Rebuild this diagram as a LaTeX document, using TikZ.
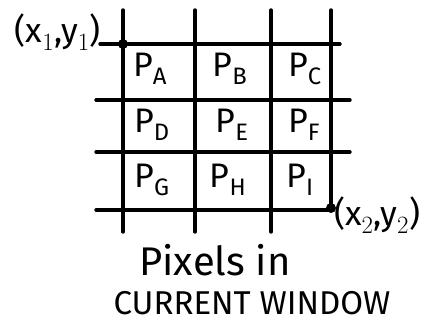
\documentclass[tikz,border=0pt]{standalone}
\usepackage{fontspec}
\setmainfont{Fira Sans}
\begin{document}
\begin{tikzpicture}[x=1pt,y=-1pt,
  gridline/.style={line width=3.4pt,line cap=round},
  celltext/.style={font=\fontsize{34}{36}\selectfont,inner sep=0pt},
  lbl/.style={font=\fontsize{34}{36}\selectfont,inner sep=0pt},
  dotmark/.style={circle,fill=black,inner sep=0pt,minimum size=10pt}]
\useasboundingbox (0,0) rectangle (439,326);
% vertical lines
\draw[gridline] (123,10) -- (123,232);
\draw[gridline] (195,10) -- (195,232);
\draw[gridline] (271,10) -- (271,232);
\draw[gridline] (331,10) -- (331,208);
% horizontal lines
\draw[gridline] (100,44) -- (340,44);
\draw[gridline] (96,100) -- (350,100);
\draw[gridline] (96,152) -- (350,152);
\draw[gridline] (96,210) -- (331,210);
% corner dots
\node[dotmark] (c1) at (123,44) {};
\node[dotmark] (c2) at (331,208) {};
% cell labels
\node[celltext] (pa) at (150,69) {P$_{\mathrm{A}}$};
\node[celltext] (pb) at (230,69) {P$_{\mathrm{B}}$};
\node[celltext] (pc) at (305,69) {P$_{\mathrm{C}}$};
\node[celltext] (pd) at (152,125) {P$_{\mathrm{D}}$};
\node[celltext] (pe) at (232,125) {P$_{\mathrm{E}}$};
\node[celltext] (pf) at (304,125) {P$_{\mathrm{F}}$};
\node[celltext] (pg) at (152,180) {P$_{\mathrm{G}}$};
\node[celltext] (ph) at (228,180) {P$_{\mathrm{H}}$};
\node[celltext] (pi) at (300,180) {P$_{\mathrm{I}}$};
% coordinate labels
\node[lbl,anchor=east] (l1) at (101,32) {(x$_1$,y$_1$)};
\node[lbl,anchor=west] (l2) at (334,215) {(x$_2$,y$_2$)};
% caption
\node[lbl,font=\fontsize{40}{42}\selectfont,anchor=base] (cap1) at (215,275) {Pixels in};
\node[lbl,font=\fontsize{33}{35}\selectfont,anchor=base] (cap2) at (252,314) {CURRENT WINDOW};
\end{tikzpicture}
\end{document}
